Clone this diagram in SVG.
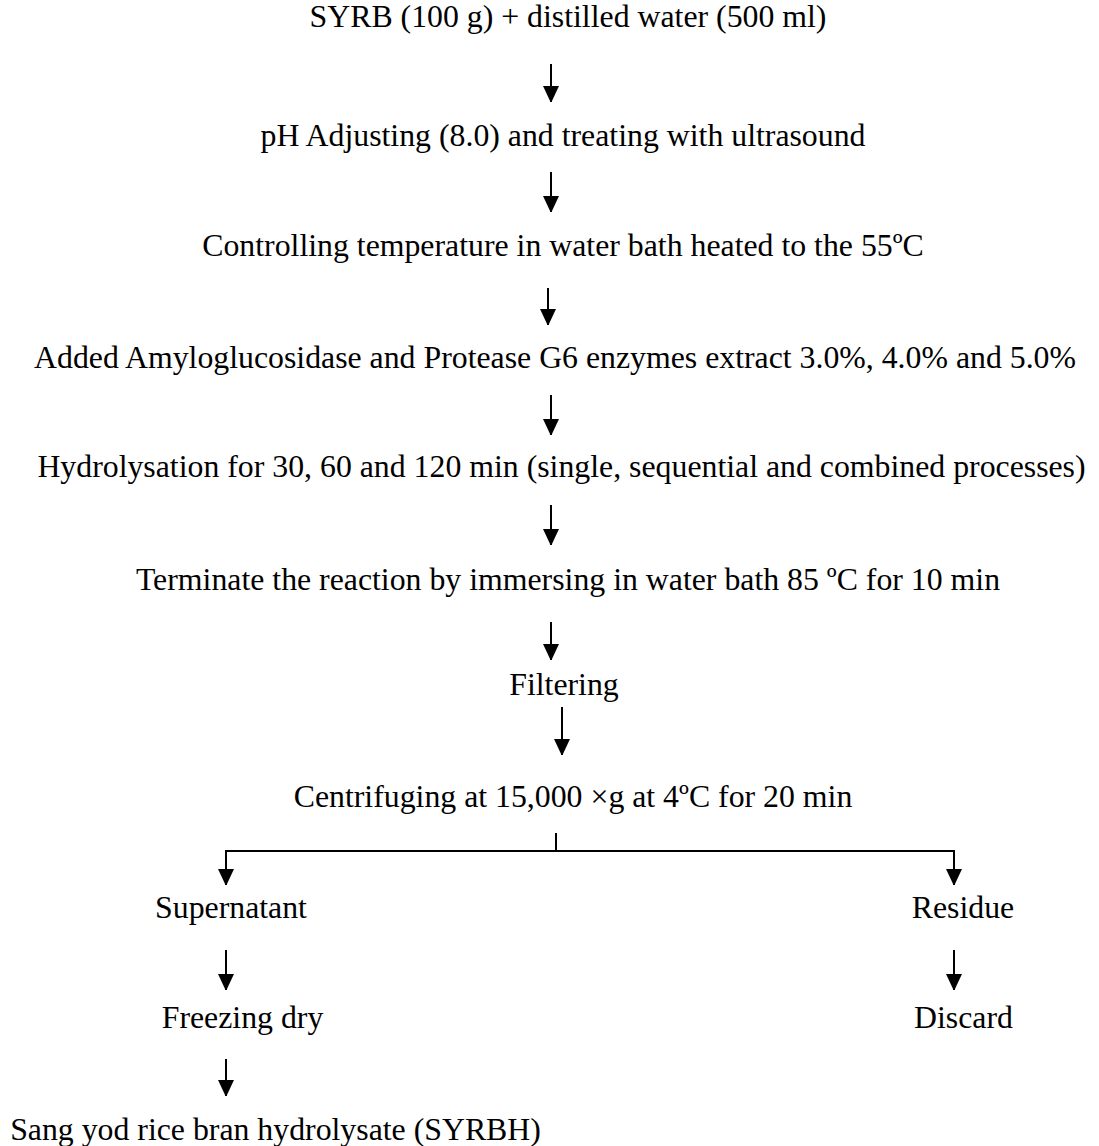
<svg xmlns="http://www.w3.org/2000/svg" width="1099" height="1146" viewBox="0 0 1099 1146">
<style>
text{font-family:"Liberation Serif","Times New Roman",serif;font-size:31.8px;fill:#000;text-anchor:middle}
.c{stroke:#000;stroke-width:2;fill:none}
</style>
<defs>
<marker id="ah" markerUnits="userSpaceOnUse" markerWidth="16" markerHeight="18" refX="16" refY="8" orient="auto">
<path d="M0,0 L17,8 L0,16 Z" fill="#000"/>
</marker>
</defs>
<rect width="1099" height="1146" fill="#fff"/>
<g id="n1"><text x="568" y="27">SYRB (100 g) + distilled water (500 ml)</text></g>
<g id="n2"><text x="563" y="146">pH Adjusting (8.0) and treating with ultrasound</text></g>
<g id="n3"><text x="563" y="256">Controlling temperature in water bath heated to the 55ºC</text></g>
<g id="n4"><text x="555" y="368">Added Amyloglucosidase and Protease G6 enzymes extract 3.0%, 4.0% and 5.0%</text></g>
<g id="n5"><text x="561.5" y="477">Hydrolysation for 30, 60 and 120 min (single, sequential and combined processes)</text></g>
<g id="n6"><text x="568" y="590">Terminate the reaction by immersing in water bath 85 ºC for 10 min</text></g>
<g id="n7"><text x="564" y="695">Filtering</text></g>
<g id="n8"><text x="573" y="807">Centrifuging at 15,000 ×g at 4ºC for 20 min</text></g>
<g id="n9"><text x="231" y="918">Supernatant</text></g>
<g id="n10"><text x="963" y="918">Residue</text></g>
<g id="n11"><text x="242.5" y="1028">Freezing dry</text></g>
<g id="n12"><text x="963.5" y="1028">Discard</text></g>
<g id="n13"><text x="275.5" y="1140">Sang yod rice bran hydrolysate (SYRBH)</text></g>
<g id="connectors" class="c">
<line x1="551" y1="64" x2="551" y2="102" marker-end="url(#ah)"/>
<line x1="551" y1="172" x2="551" y2="212" marker-end="url(#ah)"/>
<line x1="548" y1="288" x2="548" y2="325" marker-end="url(#ah)"/>
<line x1="551" y1="395" x2="551" y2="435" marker-end="url(#ah)"/>
<line x1="551" y1="505" x2="551" y2="545" marker-end="url(#ah)"/>
<line x1="551" y1="622" x2="551" y2="660" marker-end="url(#ah)"/>
<line x1="562" y1="707" x2="562" y2="755" marker-end="url(#ah)"/>
<line x1="556" y1="833" x2="556" y2="851"/>
<polyline points="226,860 226,851 954,851 954,860"/>
<line x1="226" y1="851" x2="226" y2="885" marker-end="url(#ah)"/>
<line x1="954" y1="851" x2="954" y2="885" marker-end="url(#ah)"/>
<line x1="226" y1="950" x2="226" y2="990" marker-end="url(#ah)"/>
<line x1="954" y1="950" x2="954" y2="990" marker-end="url(#ah)"/>
<line x1="226" y1="1059" x2="226" y2="1096" marker-end="url(#ah)"/>
</g>
</svg>
